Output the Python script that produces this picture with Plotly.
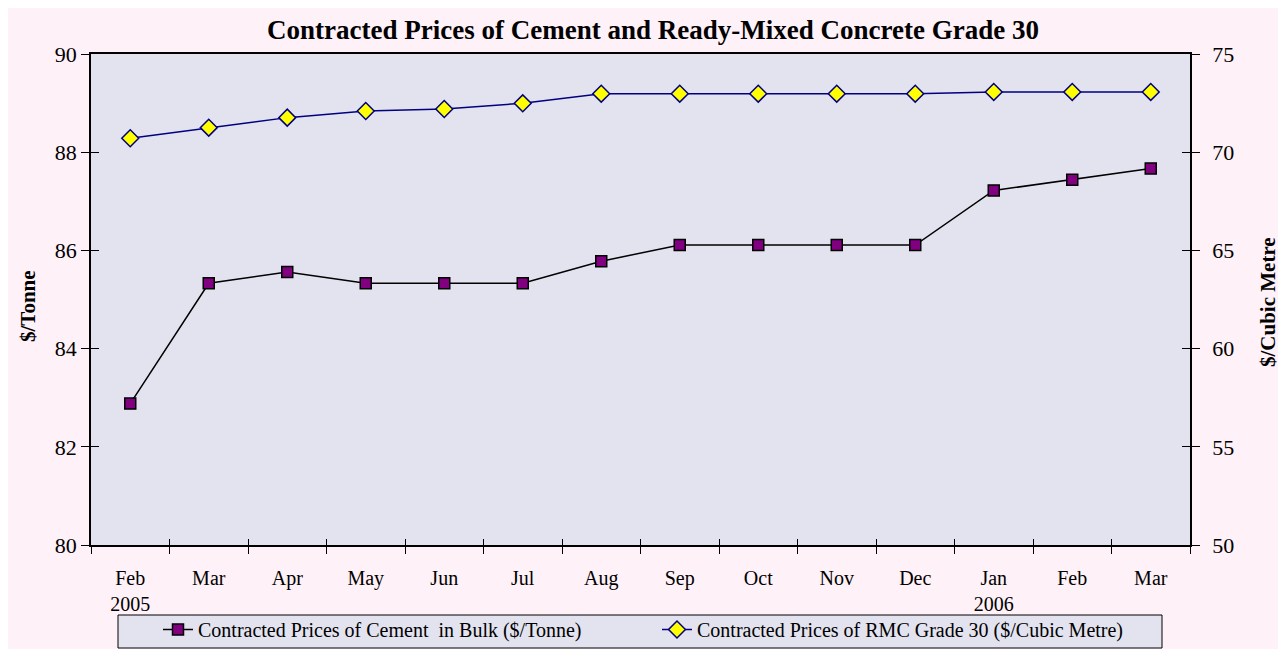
import plotly.graph_objects as go

months = ["Feb<br>2005", "Mar", "Apr", "May", "Jun", "Jul", "Aug", "Sep", "Oct", "Nov", "Dec", "Jan<br>2006", "Feb", "Mar"]
cement = [82.88, 85.33, 85.56, 85.33, 85.33, 85.33, 85.78, 86.11, 86.11, 86.11, 86.11, 87.22, 87.44, 87.67]
rmc = [70.71, 71.25, 71.76, 72.10, 72.20, 72.49, 72.98, 72.98, 72.98, 72.98, 72.98, 73.07, 73.07, 73.07]
left_ticks = [80, 82, 84, 86, 88, 90]
right_ticks = [50, 55, 60, 65, 70, 75]

xpos = list(range(len(months)))
bounds = [i - 0.5 for i in range(len(months) + 1)]

FONT = "Liberation Serif, Times New Roman, serif"
W, H = 1278, 641
L, R, T, B = 83, 96, 46, 104
PW, PH = W - L - R, H - T - B


def px_x(x):
    return (x - L) / PW


def px_y(y):
    return 1 - (y - T) / PH


fig = go.Figure()
fig.add_trace(go.Scatter(
    x=xpos, y=cement, name="Contracted Prices of Cement  in Bulk ($/Tonne)",
    mode="lines+markers", line=dict(color="black", width=1.5),
    marker=dict(symbol="square", size=11, color="#800080", line=dict(color="black", width=1.5)),
    xaxis="x", yaxis="y"))
fig.add_trace(go.Scatter(
    x=xpos, y=rmc, name="Contracted Prices of RMC Grade 30 ($/Cubic Metre)",
    mode="lines+markers", line=dict(color="#000080", width=1.5),
    marker=dict(symbol="diamond", size=13, color="#FFFF00", line=dict(color="#000080", width=1.5)),
    xaxis="x", yaxis="y2"))
# helper traces so overlay axes (inner tick halves) are drawn
fig.add_trace(go.Scatter(x=[None], y=[None], xaxis="x2", yaxis="y3", showlegend=False, hoverinfo="skip"))
fig.add_trace(go.Scatter(x=[None], y=[None], xaxis="x2", yaxis="y4", showlegend=False, hoverinfo="skip"))

fig.update_layout(
    width=W, height=H,
    margin=dict(l=L, r=R, t=T, b=B, autoexpand=False),
    paper_bgcolor="#FFF1F8", plot_bgcolor="#E3E3EF",
    font=dict(family=FONT, color="black", size=20),
    title=dict(text="<b>Contracted Prices of Cement and Ready-Mixed Concrete Grade 30</b>",
               x=645 / W, xanchor="center", y=1 - 22 / H, yanchor="middle",
               font=dict(family=FONT, size=27, color="black")),
    xaxis=dict(type="linear", range=[-0.5, 13.5], tickmode="array", tickvals=xpos, ticktext=months,
               ticks="", showgrid=False, zeroline=False, showline=True, linecolor="black", linewidth=1.5,
               mirror=True, ticklabelstandoff=14,
               minor=dict(tickmode="array", tickvals=bounds, ticks="outside", ticklen=7,
                          tickcolor="black", tickwidth=1, showgrid=False),
               tickfont=dict(family=FONT, size=20)),
    xaxis2=dict(type="linear", range=[-0.5, 13.5], overlaying="x", tickmode="array", tickvals=bounds,
                ticks="inside", ticklen=6, tickcolor="black", showticklabels=False, showgrid=False,
                zeroline=False, showline=False, side="bottom"),
    yaxis=dict(range=[80, 90], tickmode="array", tickvals=left_ticks, ticks="outside", ticklen=8,
               tickcolor="black", showgrid=False, zeroline=False, showline=True, linecolor="black",
               linewidth=1.5, tickfont=dict(family=FONT, size=22), ticksuffix="\u2002"),
    yaxis2=dict(range=[50, 75], overlaying="y", side="right", tickmode="array", tickvals=right_ticks,
                ticks="outside", ticklen=8, tickcolor="black", showgrid=False, zeroline=False,
                showline=True, linecolor="black", linewidth=1.5, tickfont=dict(family=FONT, size=22),
                ticklabelstandoff=8),
    yaxis3=dict(range=[80, 90], overlaying="y", side="left", tickmode="array", tickvals=left_ticks,
                ticks="inside", ticklen=8, tickcolor="black", showticklabels=False, showgrid=False,
                zeroline=False, showline=False),
    yaxis4=dict(range=[50, 75], overlaying="y", side="right", tickmode="array", tickvals=right_ticks,
                ticks="inside", ticklen=8, tickcolor="black", showticklabels=False, showgrid=False,
                zeroline=False, showline=False),
    legend=dict(orientation="h", x=px_x(150), xanchor="left", y=-B / PH, yanchor="bottom",
                bgcolor="rgba(0,0,0,0)", borderwidth=0,
                font=dict(family=FONT, size=20), entrywidth=454, entrywidthmode="pixels"),
    showlegend=True,
)

# axis titles
fig.add_annotation(text="<b>$/Tonne</b>", xref="paper", yref="paper", x=px_x(20), y=px_y(298),
                   xanchor="center", yanchor="middle", textangle=-90, showarrow=False,
                   font=dict(family=FONT, size=21, color="black"))
fig.add_annotation(text="<b>$/Cubic Metre</b>", xref="paper", yref="paper", x=px_x(1260), y=px_y(294),
                   xanchor="center", yanchor="middle", textangle=-90, showarrow=False,
                   font=dict(family=FONT, size=21, color="black"))

# legend frame
fig.add_shape(type="rect", xref="paper", yref="paper",
              x0=px_x(110), x1=px_x(1154), y0=px_y(640), y1=px_y(607),
              fillcolor="#E3E3EF", line=dict(color="black", width=1), layer="below")

fig.write_html("out.html")
